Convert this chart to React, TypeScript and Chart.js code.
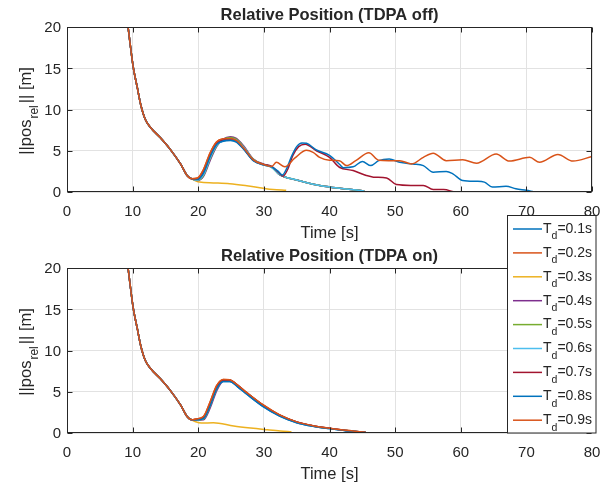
import React, { useEffect, useRef } from 'react';
import { Chart, registerables } from 'chart.js';

Chart.register(...registerables);

// ---------- tick labels / legend ----------
const xTicks = [0, 10, 20, 30, 40, 50, 60, 70, 80];
const yTicks = [0, 5, 10, 15, 20];
const delayLabels = ['0.1s', '0.2s', '0.3s', '0.4s', '0.5s', '0.6s', '0.7s', '0.8s', '0.9s'];
const lineColors = ['#0072BD', '#D95319', '#EDB120', '#7E2F8E', '#77AC30', '#4DBEEE', '#A2142F', '#0072BD', '#D95319'];

// ---------- shared initial approach ----------
const descentT = [9.0, 9.3, 10.1, 10.7, 11.2, 11.9, 12.7, 14.2, 15.7, 17.3, 18.3, 19.0];
const descentV = [21.8, 20.0, 15.1, 12.7, 10.7, 8.85, 7.85, 6.6, 5.2, 3.4, 2.0, 1.6];

// ---------- TDPA off ----------
const offRiseT = [19.9, 20.8, 21.8, 22.8, 23.8, 24.9, 25.8, 26.9, 28.4, 29.9, 31.2];
const offRise01 = [1.5, 2.2, 4.2, 5.7, 6.15, 6.25, 6.05, 5.2, 3.8, 3.3, 3.0];
const offRise02 = [1.7, 2.7, 4.7, 6.05, 6.45, 6.5, 6.25, 5.35, 3.9, 3.35, 3.05];
const offRise04 = [1.4, 1.9, 3.8, 5.5, 6.4, 6.7, 6.5, 5.6, 4.0, 3.4, 3.05];
const offRise05 = [1.45, 2.0, 4.0, 5.6, 6.35, 6.6, 6.4, 5.5, 3.95, 3.35, 3.0];
const offRise06 = [1.45, 2.1, 4.1, 5.65, 6.3, 6.5, 6.3, 5.45, 3.9, 3.3, 3.0];
const offRise07 = [1.55, 2.4, 4.4, 5.85, 6.3, 6.4, 6.2, 5.3, 3.85, 3.35, 3.1];
const offRise08 = [1.55, 2.3, 4.3, 5.75, 6.2, 6.3, 6.1, 5.25, 3.8, 3.3, 3.05];
const offRise09 = [1.7, 2.75, 4.75, 6.1, 6.45, 6.5, 6.25, 5.35, 3.9, 3.35, 3.1];

const offSettleT = [32.4, 35.0, 37.5, 40.0, 42.6, 45.3];
const offSettleV = [2.1, 1.45, 0.95, 0.62, 0.36, 0.12];

const off03T = [19.5, 20.2, 22.3, 24.8, 27.4, 29.9, 31.4, 33.4];
const off03V = [1.4, 1.2, 1.1, 1.0, 0.75, 0.45, 0.3, 0.2];

const off07T = [32.2, 32.9, 33.6, 34.4, 35.3, 36.3, 38.0, 40.0, 41.5, 43.6, 45.6, 46.7, 48.7, 50.2, 52.4, 54.3, 55.8, 57.4, 58.9];
const off07V = [2.4, 1.9, 2.7, 4.4, 5.5, 5.8, 5.0, 4.2, 3.0, 2.6, 2.0, 1.8, 1.7, 0.9, 0.8, 0.8, 0.3, 0.3, 0.02];

const off08T = [32.2, 32.8, 33.5, 34.2, 35.0, 35.8, 36.5, 38.0, 40.0, 41.6, 42.1, 43.6, 45.0, 46.3, 47.5, 49.1, 50.7, 52.7, 54.3, 55.8, 57.8, 58.8, 60.3, 62.4, 63.6, 64.8, 66.9, 68.4, 70.0, 71.0];
const off08V = [2.5, 2.05, 2.9, 4.3, 5.5, 5.95, 5.9, 5.1, 4.45, 3.3, 2.95, 3.05, 3.7, 3.2, 3.8, 4.0, 3.6, 3.4, 3.2, 2.4, 2.5, 2.2, 1.4, 1.3, 1.2, 0.6, 0.7, 0.4, 0.2, 0.05];

const off09T = [31.9, 33.2, 34.7, 36.5, 37.5, 38.5, 40.0, 41.5, 42.6, 44.0, 46.0, 47.5, 49.0, 50.7, 52.5, 54.3, 55.8, 57.8, 60.3, 62.4, 65.4, 67.4, 70.5, 72.0, 74.8, 77.1, 80.0];
const off09V = [3.6, 3.05, 4.1, 5.05, 4.8, 4.2, 3.85, 3.8, 3.2, 3.8, 4.75, 3.85, 3.8, 3.8, 3.4, 4.2, 4.7, 3.8, 3.9, 3.5, 4.6, 3.75, 4.2, 3.6, 4.55, 3.75, 4.3];

// ---------- TDPA on ----------
const onRiseT = [19.7, 20.8, 21.8, 22.8, 23.8, 24.8, 26.0, 27.4, 29.9, 32.4, 35.0, 37.5, 40.0, 42.5, 45.5];
const onBlue = [1.6, 1.75, 3.3, 5.35, 6.25, 6.25, 5.6, 4.7, 3.2, 2.05, 1.25, 0.82, 0.53, 0.28, 0.07];
const onOrange = [1.7, 2.0, 3.75, 5.75, 6.5, 6.45, 5.8, 4.9, 3.4, 2.2, 1.35, 0.88, 0.58, 0.32, 0.09];
const onPurple = [1.55, 1.6, 3.0, 5.1, 6.3, 6.4, 5.8, 4.85, 3.35, 2.15, 1.32, 0.86, 0.56, 0.3, 0.08];
const onGreen = [1.6, 1.7, 3.25, 5.3, 6.35, 6.4, 5.75, 4.85, 3.35, 2.15, 1.32, 0.86, 0.56, 0.3, 0.08];
const onCyan = [1.6, 1.75, 3.35, 5.4, 6.35, 6.35, 5.7, 4.8, 3.3, 2.12, 1.3, 0.85, 0.55, 0.3, 0.08];
const onRed = [1.65, 1.85, 3.5, 5.55, 6.4, 6.4, 5.75, 4.85, 3.35, 2.15, 1.33, 0.87, 0.57, 0.31, 0.08];

const on03T = [19.5, 20.5, 22.3, 25.4, 28.0, 30.5, 32.5, 34.2];
const on03V = [1.4, 1.2, 1.25, 0.85, 0.6, 0.4, 0.25, 0.15];

// ---------- helpers ----------
const FONT = '"Liberation Sans", Arial, Helvetica, sans-serif';
const INK = '#262626';
const W = 616;
const H = 487;
const LEFT = 67;
const RIGHT = 592;

type Part = [number[], number[]];

function join(parts: Part[]) {
  const out: { x: number; y: number }[] = [];
  for (const [ts, vs] of parts) ts.forEach((t, i) => out.push({ x: t, y: vs[i] }));
  return out;
}

const D: Part = [descentT, descentV];

const offSeries: Part[][] = [
  [D, [offRiseT, offRise01], [offSettleT, offSettleV]],
  [D, [offRiseT, offRise02], [offSettleT, offSettleV]],
  [D, [off03T, off03V]],
  [D, [offRiseT, offRise04], [offSettleT, offSettleV]],
  [D, [offRiseT, offRise05], [offSettleT, offSettleV]],
  [D, [offRiseT, offRise06], [offSettleT, offSettleV]],
  [D, [offRiseT, offRise07], [off07T, off07V]],
  [D, [offRiseT, offRise08], [off08T, off08V]],
  [D, [offRiseT, offRise09], [off09T, off09V]],
];

const onSeries: Part[][] = [
  [D, [onRiseT, onBlue]],
  [D, [onRiseT, onOrange]],
  [D, [on03T, on03V]],
  [D, [onRiseT, onPurple]],
  [D, [onRiseT, onGreen]],
  [D, [onRiseT, onCyan]],
  [D, [onRiseT, onRed]],
  [D, [onRiseT, onBlue]],
  [D, [onRiseT, onOrange]],
];

function drawLegend(ctx: CanvasRenderingContext2D) {
  const x0 = 507.5, y0 = 215.5, w = 88.5, h = 217.5;
  ctx.fillStyle = '#ffffff';
  ctx.fillRect(x0, y0, w, h);
  ctx.strokeStyle = INK;
  ctx.lineWidth = 1;
  ctx.strokeRect(x0, y0, w, h);
  ctx.textAlign = 'left';
  ctx.textBaseline = 'alphabetic';
  delayLabels.forEach((lab, i) => {
    const y = 229 + i * 23.9;
    ctx.strokeStyle = lineColors[i];
    ctx.lineWidth = 1.5;
    ctx.beginPath();
    ctx.moveTo(513, y);
    ctx.lineTo(542, y);
    ctx.stroke();
    ctx.fillStyle = INK;
    ctx.font = `14px ${FONT}`;
    ctx.fillText('T', 543, y + 3.8);
    const wT = ctx.measureText('T').width;
    ctx.font = `10.5px ${FONT}`;
    ctx.fillText('d', 543 + wT, y + 10.3);
    const wd = ctx.measureText('d').width;
    ctx.font = `14px ${FONT}`;
    ctx.fillText('=' + lab, 543 + wT + wd, y + 3.8);
  });
}

function framePlugin(title: string, legend: boolean) {
  return {
    id: 'frame',
    afterDatasetsDraw(chart: any) {
      const { ctx, chartArea: a, scales } = chart;
      const xs = scales.x;
      const ys = scales.y;
      ctx.save();
      ctx.strokeStyle = INK;
      ctx.lineWidth = 1;
      const L = Math.round(a.left) + 0.5;
      const R = Math.round(a.right) - 0.5;
      const T = Math.round(a.top) + 0.5;
      const B = Math.round(a.bottom) - 0.5;
      ctx.strokeRect(L, T, R - L, B - T);
      ctx.beginPath();
      for (const t of xTicks) {
        const px = Math.round(xs.getPixelForValue(t)) + 0.5;
        ctx.moveTo(px, B);
        ctx.lineTo(px, B - 5);
        ctx.moveTo(px, T);
        ctx.lineTo(px, T + 5);
      }
      for (const v of yTicks) {
        const py = Math.round(ys.getPixelForValue(v)) + 0.5;
        ctx.moveTo(L, py);
        ctx.lineTo(L + 5, py);
        ctx.moveTo(R, py);
        ctx.lineTo(R - 5, py);
      }
      ctx.stroke();

      ctx.fillStyle = INK;
      ctx.textBaseline = 'alphabetic';
      ctx.font = `15px ${FONT}`;
      ctx.textAlign = 'center';
      for (const t of xTicks) ctx.fillText(String(t), xs.getPixelForValue(t), a.bottom + 23.5);
      ctx.textAlign = 'right';
      for (const v of yTicks) ctx.fillText(String(v), a.left - 6, ys.getPixelForValue(v) + 5.4);

      const cx = (a.left + a.right) / 2;
      ctx.textAlign = 'center';
      ctx.font = `bold 16.5px ${FONT}`;
      ctx.fillText(title, cx, a.top - 7.5);
      ctx.font = `16.5px ${FONT}`;
      ctx.fillText('Time [s]', cx, a.bottom + 46);

      // y label with subscript
      const mainF = `16.5px ${FONT}`;
      const subF = `12px ${FONT}`;
      ctx.font = mainF;
      const w1 = ctx.measureText('||pos').width;
      const w3 = ctx.measureText('|| [m]').width;
      ctx.font = subF;
      const w2 = ctx.measureText('rel').width + 3;
      const total = w1 + w2 + w3;
      ctx.save();
      ctx.translate(30.5, (a.top + a.bottom) / 2 + 1.5);
      ctx.rotate(-Math.PI / 2);
      ctx.textAlign = 'left';
      let x = -total / 2;
      ctx.font = mainF;
      ctx.fillText('||pos', x, 0);
      x += w1;
      ctx.font = subF;
      ctx.fillText('rel', x + 1, 7.5);
      x += w2;
      ctx.font = mainF;
      ctx.fillText('|| [m]', x, 0);
      ctx.restore();

      if (legend) drawLegend(ctx);
      ctx.restore();
    },
  };
}

function makeConfig(series: Part[][], top: number, bottom: number, title: string, legend: boolean): any {
  return {
    type: 'line',
    data: {
      datasets: series.map((parts, i) => ({
        label: 'T_d=' + delayLabels[i],
        data: join(parts),
        borderColor: lineColors[i],
        backgroundColor: lineColors[i],
        borderWidth: 1.5,
        pointRadius: 0,
        fill: false,
        cubicInterpolationMode: 'monotone',
        order: series.length - i,
      })),
    },
    options: {
      animation: false,
      responsive: false,
      maintainAspectRatio: false,
      devicePixelRatio: 1,
      layout: { padding: { left: 0, right: W - RIGHT, top, bottom: 0 } },
      plugins: { legend: { display: false }, title: { display: false }, tooltip: { enabled: false } },
      events: [],
      scales: {
        x: {
          type: 'linear',
          min: 0,
          max: 80,
          ticks: { display: false, stepSize: 10 },
          grid: { color: '#e2e2e2', drawTicks: false, lineWidth: 1 },
          border: { display: false },
          afterFit: (s: any) => { s.height = H - bottom; },
        },
        y: {
          type: 'linear',
          min: 0,
          max: 20,
          ticks: { display: false, stepSize: 5 },
          grid: { color: '#e2e2e2', drawTicks: false, lineWidth: 1 },
          border: { display: false },
          afterFit: (s: any) => { s.width = LEFT; },
        },
      },
    },
    plugins: [framePlugin(title, legend)],
  };
}

export default function App() {
  const topRef = useRef<HTMLCanvasElement>(null);
  const botRef = useRef<HTMLCanvasElement>(null);
  useEffect(() => {
    const c1 = new Chart(topRef.current as HTMLCanvasElement, makeConfig(offSeries, 27, 192, 'Relative Position (TDPA off)', false));
    const c2 = new Chart(botRef.current as HTMLCanvasElement, makeConfig(onSeries, 268, 433, 'Relative Position (TDPA on)', true));
    return () => {
      c1.destroy();
      c2.destroy();
    };
  }, []);
  const cs: React.CSSProperties = { position: 'absolute', left: 0, top: 0, width: W, height: H };
  return (
    <div style={{ position: 'absolute', left: 0, top: 0, width: W, height: H, background: '#ffffff' }}>
      <canvas ref={topRef} width={W} height={H} style={cs} />
      <canvas ref={botRef} width={W} height={H} style={cs} />
    </div>
  );
}
